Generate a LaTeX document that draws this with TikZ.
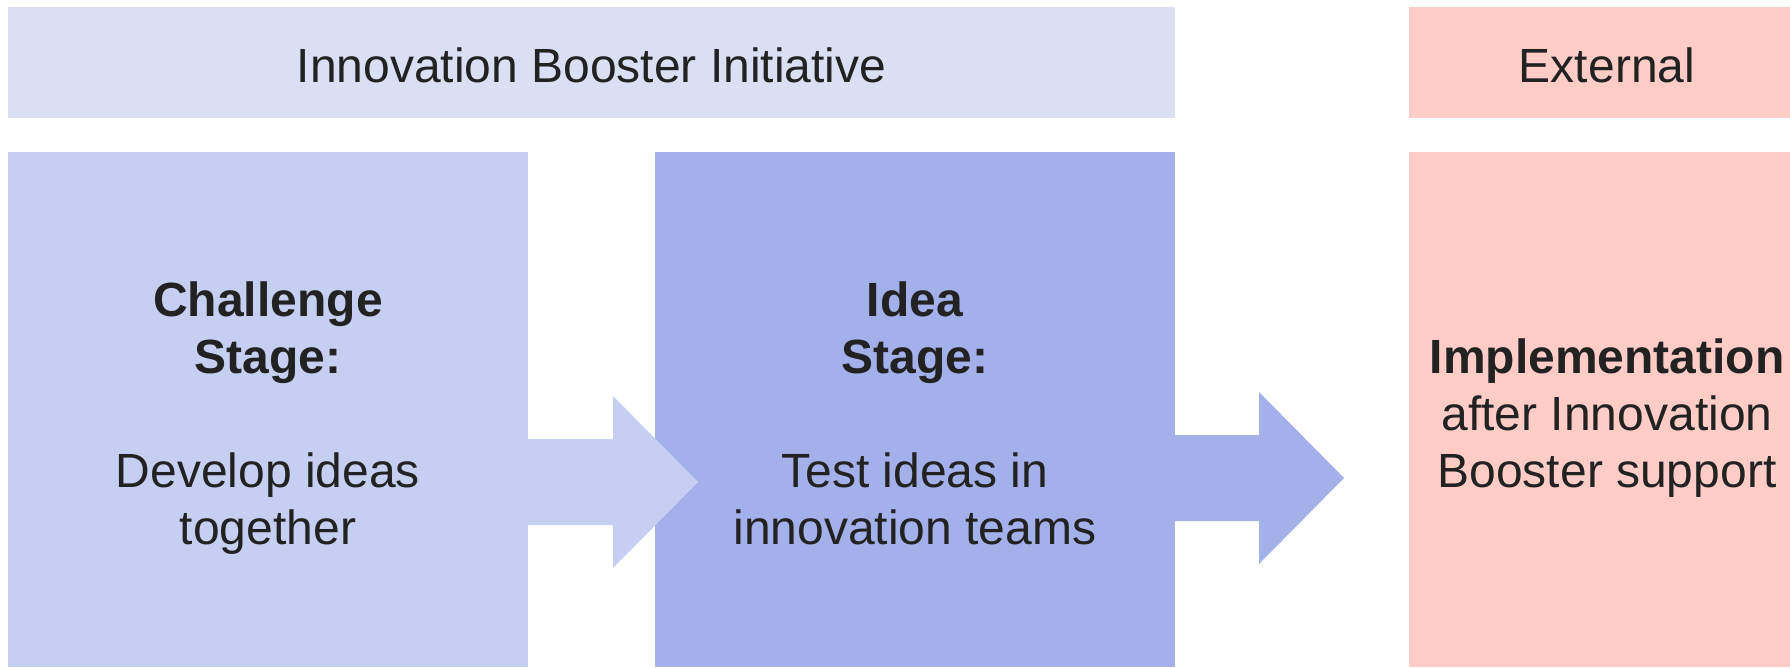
\documentclass[tikz,border=0pt]{standalone}
\usepackage{fontspec}
\setmainfont{Liberation Sans}
\definecolor{bannerblue}{HTML}{DADFF4}
\definecolor{lightblue}{HTML}{C6CEF2}
\definecolor{midblue}{HTML}{A3B0E9}
\definecolor{salmon}{HTML}{FFCDC6}
\definecolor{txt}{HTML}{222222}
\begin{document}
\begin{tikzpicture}[x=1pt,y=-1pt,
  box/.style={rectangle,draw=none,inner sep=0pt,outer sep=0pt,anchor=north west},
  lbl/.style={inner sep=0pt,outer sep=0pt,text=txt,align=center,font=\fontsize{48}{57}\selectfont},
  blockarrow/.style={draw=none}]
\useasboundingbox (0,0) rectangle (1790,667);
% boxes
\node[box,fill=bannerblue,minimum width=1167pt,minimum height=111pt] (banner) at (8,7) {};
\node[box,fill=salmon,minimum width=381pt,minimum height=111pt] (ext) at (1409,7) {};
\node[box,fill=lightblue,minimum width=520pt,minimum height=515pt] (chal) at (8,152) {};
\node[box,fill=midblue,minimum width=520pt,minimum height=515pt] (idea) at (655,152) {};
\node[box,fill=salmon,minimum width=381pt,minimum height=515pt] (impl) at (1409,152) {};
% arrows
\fill[lightblue] (528,439) -- (613,439) -- (613,396) -- (698,482) -- (613,568) -- (613,525) -- (528,525) -- cycle;
\fill[midblue] (1175,435) -- (1259,435) -- (1259,392) -- (1344,478) -- (1259,564) -- (1259,521) -- (1175,521) -- cycle;
% texts
\node[lbl,anchor=base] (bannertxt) at (591.5,82) {Innovation Booster Initiative};
\node[lbl,anchor=base] (exttxt) at (1607,82) {External};
\node[lbl] (chaltxt) at (268,418.5) {\textbf{Challenge}\\\textbf{Stage:}\\[57pt]Develop ideas\\together};
\node[lbl] (ideatxt) at (915,413) {\textbf{Idea}\\\textbf{Stage:}\\[57pt]Test ideas in\\innovation teams};
\node[lbl] (impltxt) at (1607,418.5) {\textbf{Implementation}\\after Innovation\\Booster support};
\end{tikzpicture}
\end{document}
